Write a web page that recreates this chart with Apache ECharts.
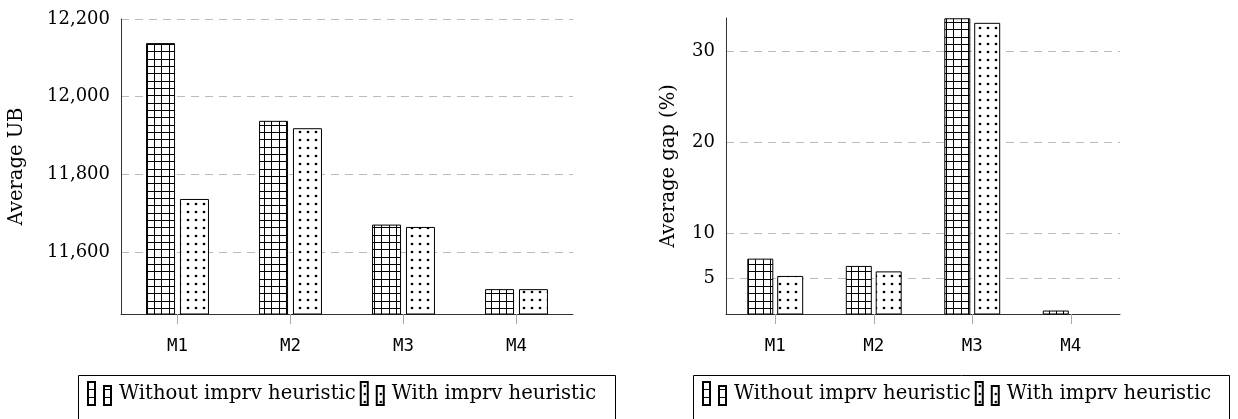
<!DOCTYPE html>
<html>
<head>
<meta charset="utf-8">
<script src="https://cdn.jsdelivr.net/npm/echarts@6/dist/echarts.min.js"></script>
<style>html,body{margin:0;padding:0;background:#fff;}#c{width:1238px;height:419px;}</style>
</head>
<body>
<div id="c"></div>
<script>
const categories = ['M1', 'M2', 'M3', 'M4'];
const seriesNames = ['Without imprv heuristic', 'With imprv heuristic'];
const ubWithout = [12138, 11938, 11671, 11505];
const ubWith = [11737, 11919, 11665, 11505];
const gapWithout = [7.2, 6.4, 33.6, 1.5];
const gapWith = [5.3, 5.8, 33.1, 1.15];
const ubTicks = [11600, 11800, 12000, 12200];
const gapTicks = [5, 10, 20, 30];

function gridPattern() {
  const c = document.createElement('canvas');
  c.width = 22; c.height = 22;
  const g = c.getContext('2d');
  g.fillStyle = '#fff'; g.fillRect(0, 0, 22, 22);
  g.strokeStyle = '#000'; g.lineWidth = 1;
  [0.5, 7.5, 15.5].forEach(p => {
    g.beginPath(); g.moveTo(p, 0); g.lineTo(p, 22); g.stroke();
    g.beginPath(); g.moveTo(0, p); g.lineTo(22, p); g.stroke();
  });
  return c;
}
function dotPattern() {
  const c = document.createElement('canvas');
  c.width = 8; c.height = 8;
  const g = c.getContext('2d');
  g.fillStyle = '#fff'; g.fillRect(0, 0, 8, 8);
  g.fillStyle = '#000';
  g.beginPath(); g.arc(4, 4, 1.35, 0, Math.PI * 2); g.fill();
  return c;
}
const gridFill = { image: gridPattern(), repeat: 'repeat' };
const dotFill = { image: dotPattern(), repeat: 'repeat' };

const serif = 'DejaVu Serif';
const mono = 'DejaVu Sans Mono';

function xAxisDef(gridIndex) {
  return {
    type: 'category', gridIndex, data: categories,
    axisLine: { lineStyle: { color: '#333', width: 1 } },
    axisTick: { show: true, alignWithLabel: true, length: 10, inside: false, lineStyle: { color: '#aaa' } },
    axisLabel: { fontFamily: mono, fontSize: 17.5, color: '#000', margin: 23 },
    splitLine: { show: false }
  };
}
function yAxisDef(gridIndex, min, max, ticks, name, nameGap, fmt) {
  return {
    type: 'value', gridIndex, min, max,
    name, nameLocation: 'middle', nameGap, nameRotate: 90,
    nameTextStyle: { fontFamily: serif, fontSize: 19.5, color: '#000' },
    axisLine: { show: true, lineStyle: { color: '#333', width: 1 } },
    axisTick: { show: false, customValues: ticks },
    axisLabel: { customValues: ticks, fontFamily: serif, fontSize: 18, color: '#000', margin: 11, formatter: fmt },
    splitLine: { show: true, lineStyle: { color: '#bbb', type: [8, 6], width: 1 } }
  };
}
const barStyle = (fill) => ({ color: fill, borderColor: '#000', borderWidth: 1 });
const legendIcon = 'path://M0,0h7v23h-7z M16,4h7v19h-7z';
function legendDef(left) {
  return {
    left, top: 381, padding: 0, itemGap: 4, itemWidth: 23, itemHeight: 23,
    icon: legendIcon, data: seriesNames,
    textStyle: { fontFamily: serif, fontSize: 19.6, color: '#000', padding: [0, 0, 0, 3] }
  };
}

const chart = echarts.init(document.getElementById('c'), null, { renderer: 'canvas' });
chart.setOption({
  animation: false,
  backgroundColor: '#fff',
  grid: [
    { left: 121, top: 19, width: 452, height: 295 },
    { left: 726, top: 18, width: 394, height: 296 }
  ],
  xAxis: [xAxisDef(0), xAxisDef(1)],
  yAxis: [
    yAxisDef(0, 11441, 12200, ubTicks, 'Average UB', 94, v => v.toLocaleString('en-US')),
    yAxisDef(1, 1.12, 33.63, gapTicks, 'Average gap (%)', 47, v => String(v))
  ],
  legend: [legendDef(87), legendDef(702)],
  graphic: [
    { type: 'rect', shape: { x: 78.5, y: 375.5, width: 537, height: 60 }, style: { fill: 'none', stroke: '#000', lineWidth: 1 }, z: 0 },
    { type: 'rect', shape: { x: 693.5, y: 375.5, width: 536, height: 60 }, style: { fill: 'none', stroke: '#000', lineWidth: 1 }, z: 0 }
  ],
  series: [
    { type: 'bar', name: seriesNames[0], xAxisIndex: 0, yAxisIndex: 0, data: ubWithout, barWidth: 29, barGap: '17%', itemStyle: barStyle(gridFill) },
    { type: 'bar', name: seriesNames[1], xAxisIndex: 0, yAxisIndex: 0, data: ubWith, barWidth: 29, barGap: '17%', itemStyle: barStyle(dotFill) },
    { type: 'bar', name: seriesNames[0], xAxisIndex: 1, yAxisIndex: 1, data: gapWithout, barWidth: 26, barGap: '15%', itemStyle: barStyle(gridFill) },
    { type: 'bar', name: seriesNames[1], xAxisIndex: 1, yAxisIndex: 1, data: gapWith, barWidth: 26, barGap: '15%', itemStyle: barStyle(dotFill) }
  ]
});
</script>
</body>
</html>
